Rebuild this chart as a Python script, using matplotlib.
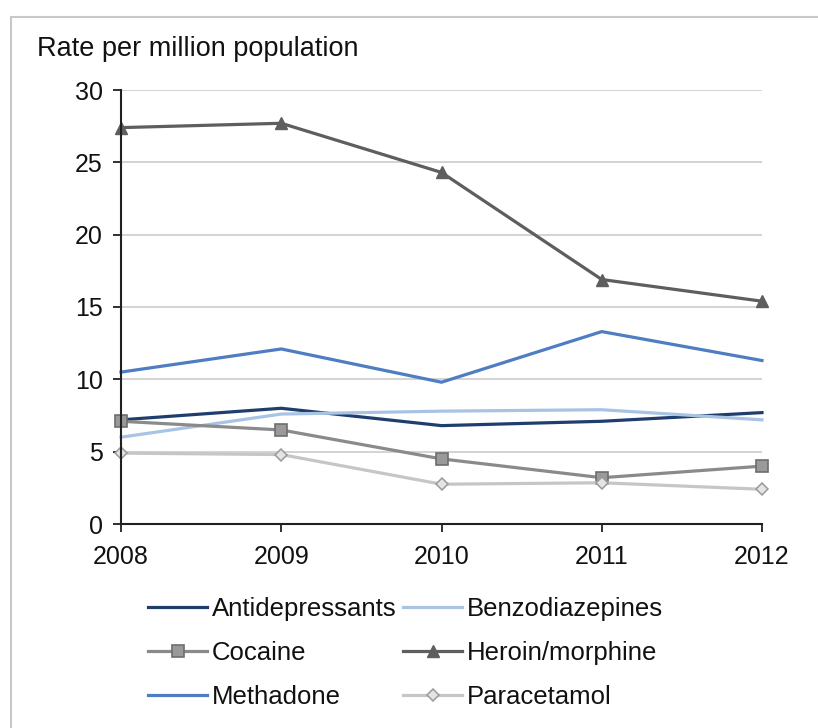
import matplotlib
matplotlib.use("Agg")
import matplotlib.pyplot as plt
from matplotlib.patches import Rectangle

plt.rcParams['font.family'] = ['Liberation Sans', 'DejaVu Sans']

years = [2008, 2009, 2010, 2011, 2012]
antidepressants = [7.2, 8.0, 6.8, 7.1, 7.7]
benzodiazepines = [6.0, 7.6, 7.8, 7.9, 7.2]
cocaine = [7.1, 6.5, 4.5, 3.2, 4.0]
heroin_morphine = [27.4, 27.7, 24.3, 16.9, 15.4]
methadone = [10.5, 12.1, 9.8, 13.3, 11.3]
paracetamol = [4.9, 4.8, 2.75, 2.85, 2.4]
y_ticks = [0, 5, 10, 15, 20, 25, 30]

W, H = 818, 728
fig = plt.figure(figsize=(W / 100, H / 100), dpi=100)
fig.patch.set_facecolor('white')

# light frame around the chart area
fig.patches.append(Rectangle((11 / W, -0.05), 1.2, 1 - 17 / H + 0.05,
                             transform=fig.transFigure, fill=False,
                             edgecolor='#C8C8C8', linewidth=1.5))

ax = fig.add_axes([121 / W, 1 - 524 / H, (762 - 121) / W, (524 - 90) / H])

series = [
    ('Antidepressants', antidepressants, dict(color='#1F3E6E', lw=2.3)),
    ('Benzodiazepines', benzodiazepines, dict(color='#A8C3E3', lw=2.3)),
    ('Cocaine', cocaine, dict(color='#8A8A8A', lw=2.3, marker='s', markersize=8,
                              markerfacecolor='#9A9A9A', markeredgecolor='#6E6E6E',
                              markeredgewidth=1.2)),
    ('Heroin/morphine', heroin_morphine, dict(color='#5E5E5E', lw=2.3, marker='^',
                                              markersize=8, markerfacecolor='#5E5E5E',
                                              markeredgecolor='#5E5E5E')),
    ('Methadone', methadone, dict(color='#4E7DC1', lw=2.3)),
    ('Paracetamol', paracetamol, dict(color='#C6C6C6', lw=2.3, marker='D', markersize=6,
                                      markerfacecolor='#E4E4E4', markeredgecolor='#9A9A9A',
                                      markeredgewidth=1.1)),
]

handles = {}
for name, vals, style in series:
    ln, = ax.plot(years, vals, label=name, solid_joinstyle='miter', clip_on=False, **style)
    handles[name] = ln

ax.set_xlim(2008, 2012)
ax.set_ylim(0, 30)
ax.set_yticks(y_ticks)
ax.set_xticks(years)
ax.set_xticklabels([str(y) for y in years])
ax.yaxis.grid(True, color='#D0D0D0', linewidth=1.3)
ax.set_axisbelow(True)
for side in ['top', 'right']:
    ax.spines[side].set_visible(False)
for side in ['left', 'bottom']:
    ax.spines[side].set_color('#202020')
    ax.spines[side].set_linewidth(1.5)
ax.tick_params(axis='both', direction='out', length=6, width=1.3, color='#202020',
               labelsize=18, labelcolor='#111111')
ax.tick_params(axis='x', pad=9)
ax.tick_params(axis='y', pad=7)

fig.text(37 / W, 1 - 49 / H, 'Rate per million population', fontsize=19.5,
         color='#111111', ha='left', va='center')

# two legend columns, placed side by side
columns = [(['Antidepressants', 'Cocaine', 'Methadone'], 148),
           (['Benzodiazepines', 'Heroin/morphine', 'Paracetamol'], 403)]
for names, x0 in columns:
    leg = fig.legend([handles[n] for n in names], names, loc='upper left',
                     bbox_to_anchor=(x0 / W, 1 - 597 / H), ncol=1, frameon=False,
                     fontsize=18.5, handlelength=2.3, handletextpad=0.2,
                     labelspacing=0.78, borderaxespad=0, borderpad=0)
    for t in leg.get_texts():
        t.set_color('#111111')

fig.savefig('out.png', dpi=100, facecolor='white')
